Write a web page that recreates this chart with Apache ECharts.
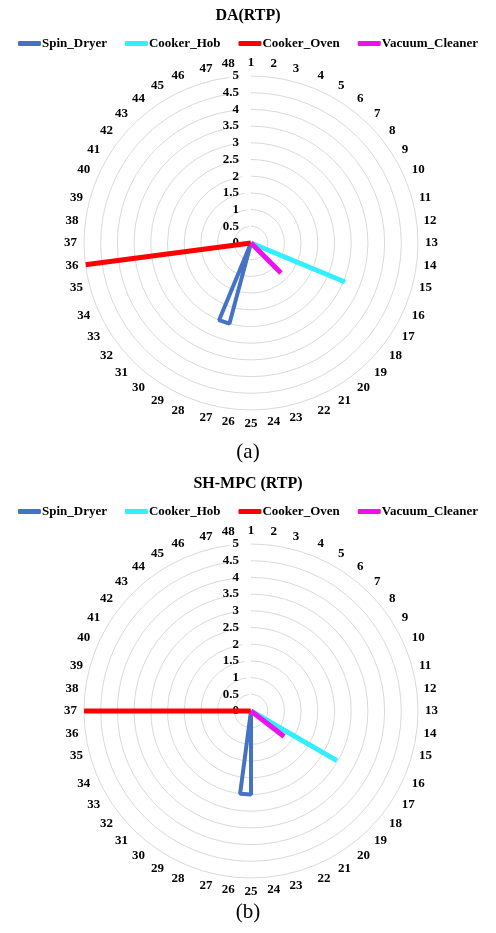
<!DOCTYPE html>
<html>
<head>
<meta charset="utf-8">
<script src="https://cdn.jsdelivr.net/npm/echarts@6/dist/echarts.min.js"></script>
<style>
html,body{margin:0;padding:0;background:#fff;}
#c{width:496px;height:933px;}
</style>
</head>
<body>
<div id="c"></div>
<script>
const periods = ['1','2','3','4','5','6','7','8','9','10','11','12','13','14','15','16','17','18','19','20','21','22','23','24','25','26','27','28','29','30','31','32','33','34','35','36','37','38','39','40','41','42','43','44','45','46','47','48'];
const seriesNames = ['Spin_Dryer','Cooker_Hob','Cooker_Oven','Vacuum_Cleaner'];
const colors = ['#4472C4','#33EEFF','#FF0000','#EE10EE'];

// Chart (a) DA(RTP)
const daSpinDryer     = [0,0,0,0,0,0,0,0,0,0,0,0,0,0,0,0,0,0,0,0,0,0,0,0,0,0,2.5,2.5,0,0,0,0,0,0,0,0,0,0,0,0,0,0,0,0,0,0,0,0];
const daCookerHob     = [0,0,0,0,0,0,0,0,0,0,0,0,0,0,0,3.05,0,0,0,0,0,0,0,0,0,0,0,0,0,0,0,0,0,0,0,0,0,0,0,0,0,0,0,0,0,0,0,0];
const daCookerOven    = [0,0,0,0,0,0,0,0,0,0,0,0,0,0,0,0,0,0,0,0,0,0,0,0,0,0,0,0,0,0,0,0,0,0,0,5,0,0,0,0,0,0,0,0,0,0,0,0];
const daVacuumCleaner = [0,0,0,0,0,0,0,0,0,0,0,0,0,0,0,0,0,0,1.27,0,0,0,0,0,0,0,0,0,0,0,0,0,0,0,0,0,0,0,0,0,0,0,0,0,0,0,0,0];

// Chart (b) SH-MPC (RTP)
const shSpinDryer     = [0,0,0,0,0,0,0,0,0,0,0,0,0,0,0,0,0,0,0,0,0,0,0,0,2.5,2.5,0,0,0,0,0,0,0,0,0,0,0,0,0,0,0,0,0,0,0,0,0,0];
const shCookerHob     = [0,0,0,0,0,0,0,0,0,0,0,0,0,0,0,0,2.97,0,0,0,0,0,0,0,0,0,0,0,0,0,0,0,0,0,0,0,0,0,0,0,0,0,0,0,0,0,0,0];
const shCookerOven    = [0,0,0,0,0,0,0,0,0,0,0,0,0,0,0,0,0,0,0,0,0,0,0,0,0,0,0,0,0,0,0,0,0,0,0,0,5,0,0,0,0,0,0,0,0,0,0,0];
const shVacuumCleaner = [0,0,0,0,0,0,0,0,0,0,0,0,0,0,0,0,0,1.25,0,0,0,0,0,0,0,0,0,0,0,0,0,0,0,0,0,0,0,0,0,0,0,0,0,0,0,0,0,0];

const radiusTicks = { min: 0, max: 5, interval: 0.5 };
const titles = ['DA(RTP)', 'SH-MPC (RTP)'];
const captions = ['(a)', '(b)'];

const FONT = '"Liberation Serif", "Times New Roman", serif';
const chart = echarts.init(document.getElementById('c'));

function polar(cy){ return { center: [251, cy], radius: 167 }; }
function angleAxis(i){
  return {
    polarIndex: i, type: 'category', data: periods, startAngle: 90, clockwise: true,
    boundaryGap: false,
    axisLine: { show: false }, axisTick: { show: false }, splitLine: { show: false },
    axisLabel: { interval: 0, color: '#000', fontFamily: FONT, fontWeight: 'bold', fontSize: 13, margin: 7 }
  };
}
function radiusAxis(i){
  return {
    polarIndex: i, type: 'value', min: radiusTicks.min, max: radiusTicks.max, interval: radiusTicks.interval,
    axisLine: { show: false }, axisTick: { show: false },
    splitLine: { show: true, lineStyle: { color: '#D9D9D9', width: 1 } },
    axisLabel: { color: '#000', fontFamily: FONT, fontWeight: 'bold', fontSize: 13, margin: 12,
      formatter: v => String(v) }
  };
}
function lineSeries(name, data, idx, color, w){
  return {
    name, type: 'line', coordinateSystem: 'polar', polarIndex: idx, data,
    showSymbol: false, symbol: 'none', silent: true, animation: false,
    lineStyle: { color, width: w }, itemStyle: { color }
  };
}
const legendBase = {
  data: seriesNames, icon: 'roundRect', itemWidth: 23, itemHeight: 5, itemGap: 18,
  textStyle: { color: '#000', fontFamily: FONT, fontWeight: 'bold', fontSize: 13, padding: [0,0,0,-4] },
  selectedMode: false
};

chart.setOption({
  animation: false,
  title: [
    { text: titles[0], left: 'center', top: 3, textStyle: { fontFamily: FONT, fontWeight: 'bold', fontSize: 16, color: '#000' } },
    { text: titles[1], left: 'center', top: 471, textStyle: { fontFamily: FONT, fontWeight: 'bold', fontSize: 16, color: '#000' } },
    { text: captions[0], left: 'center', top: 437, textStyle: { fontFamily: FONT, fontWeight: 'normal', fontSize: 21, color: '#000' } },
    { text: captions[1], left: 'center', top: 897, textStyle: { fontFamily: FONT, fontWeight: 'normal', fontSize: 21, color: '#000' } }
  ],
  legend: [
    Object.assign({ left: 'center', top: 32 }, legendBase),
    Object.assign({ left: 'center', top: 500 }, legendBase)
  ],
  polar: [polar(243), polar(711)],
  angleAxis: [angleAxis(0), angleAxis(1)],
  radiusAxis: [radiusAxis(0), radiusAxis(1)],
  series: [
    lineSeries(seriesNames[0], daSpinDryer, 0, colors[0], 4),
    lineSeries(seriesNames[1], daCookerHob, 0, colors[1], 5),
    lineSeries(seriesNames[2], daCookerOven, 0, colors[2], 5),
    lineSeries(seriesNames[3], daVacuumCleaner, 0, colors[3], 5),
    lineSeries(seriesNames[0], shSpinDryer, 1, colors[0], 4),
    lineSeries(seriesNames[1], shCookerHob, 1, colors[1], 5),
    lineSeries(seriesNames[2], shCookerOven, 1, colors[2], 5),
    lineSeries(seriesNames[3], shVacuumCleaner, 1, colors[3], 5)
  ]
});
</script>
</body>
</html>
